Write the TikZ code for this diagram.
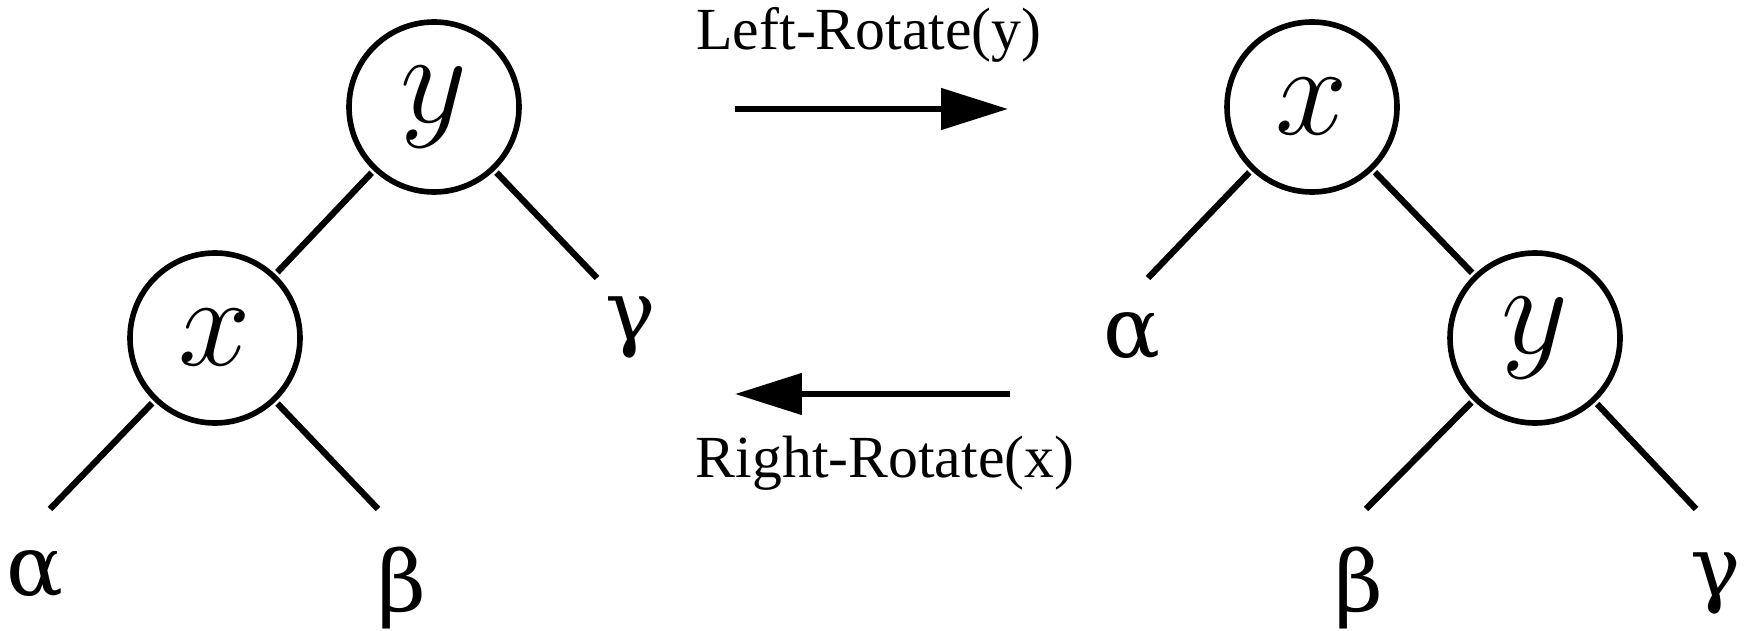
\documentclass[tikz,border=0pt]{standalone}
\usepackage{fix-cm}
\usepackage{fontspec}
\setmainfont{Liberation Serif}
\newfontfamily\greekfont{DejaVu Serif}
\usetikzlibrary{arrows.meta}

\begin{document}
\begin{tikzpicture}[scale=2, transform shape,
    treenode/.style={circle, draw, line width=3.2pt, minimum size=1.70cm, inner sep=0pt,
        font=\fontsize{37}{40}\selectfont},
    leaf/.style={inner sep=0pt, font=\fontsize{24}{28}\selectfont\greekfont},
    edge/.style={line width=3.6pt},
    rotlabel/.style={anchor=base, inner sep=0pt, font=\fontsize{17}{20}\selectfont},
    rotarrow/.style={line width=3.5pt, -{Triangle[length=38pt, width=23pt]}}]

    % Fix the page size
    \useasboundingbox (0,0) rectangle (17.44,-6.31);

    % Left tree: y on top, x below it
    \node[treenode] (yL) at (4.34,-1.07) {$y$};
    \node[treenode] (xL) at (2.15,-3.38) {$x$};

    \coordinate (aLend) at (0.50,-5.09);
    \coordinate (bLend) at (3.78,-5.09);
    \coordinate (gLend) at (5.97,-2.78);

    \node[leaf] (alphaL) at (0.35,-5.74) {α};
    \node[leaf] (betaL) at (4.02,-5.88) {β};
    \node[leaf] (gammaL) at (6.31,-3.27) {γ};

    \draw[edge] (yL) -- (xL);
    \draw[edge] (yL) -- (gLend);
    \draw[edge] (xL) -- (aLend);
    \draw[edge] (xL) -- (bLend);

    % Right tree: x on top, y below it
    \node[treenode] (xR) at (13.12,-1.07) {$x$};
    \node[treenode] (yR) at (15.35,-3.38) {$y$};

    \coordinate (aRend) at (11.48,-2.78);
    \coordinate (bRend) at (13.66,-5.09);
    \coordinate (gRend) at (16.96,-5.09);

    \node[leaf] (alphaR) at (11.32,-3.36) {α};
    \node[leaf] (betaR) at (13.59,-5.88) {β};
    \node[leaf] (gammaR) at (17.16,-5.83) {γ};

    \draw[edge] (xR) -- (yR);
    \draw[edge] (xR) -- (aRend);
    \draw[edge] (yR) -- (bRend);
    \draw[edge] (yR) -- (gRend);

    % Rotation arrows
    \coordinate (topL) at (7.35,-1.09);
    \coordinate (topR) at (10.08,-1.09);
    \coordinate (botL) at (7.35,-3.94);
    \coordinate (botR) at (10.10,-3.94);

    \draw[rotarrow] (topL) -- (topR);
    \draw[rotarrow] (botR) -- (botL);

    \node[rotlabel] (leftrot) at (8.69,-0.50) {Left-Rotate(y)};
    \node[rotlabel] (rightrot) at (8.85,-4.77) {Right-Rotate(x)};

\end{tikzpicture}
\end{document}
